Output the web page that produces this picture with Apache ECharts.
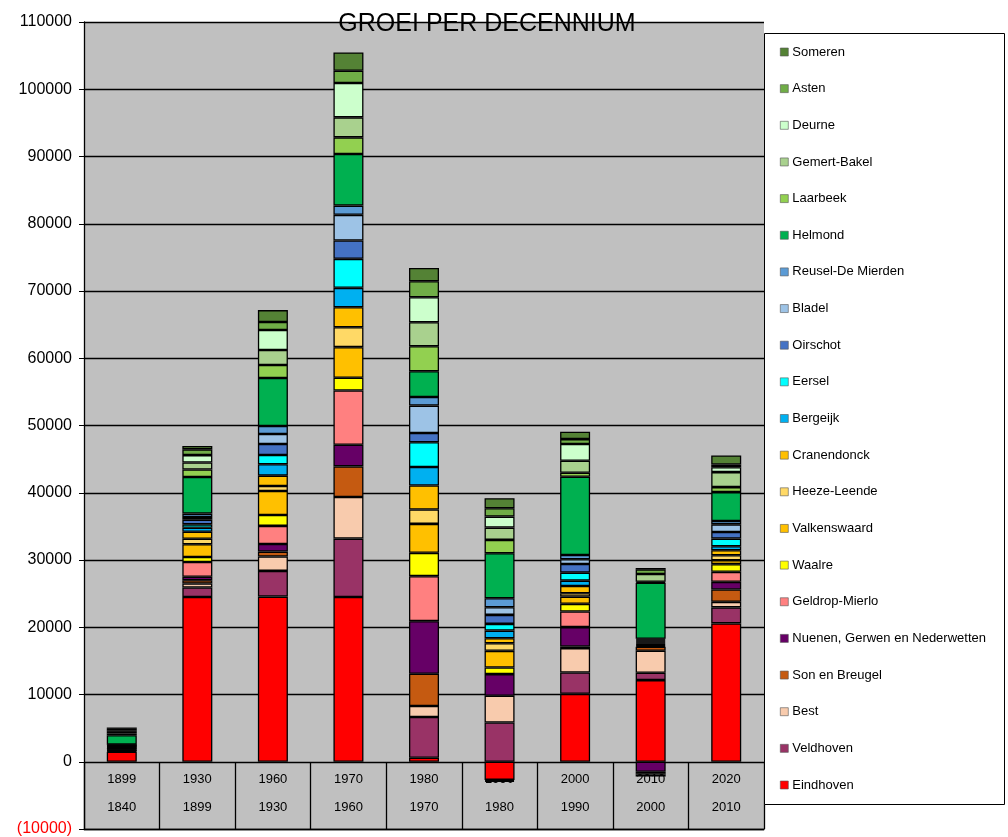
<!DOCTYPE html>
<html>
<head>
<meta charset="utf-8">
<script src="https://cdn.jsdelivr.net/npm/echarts@6/dist/echarts.min.js"></script>
<style>
  html, body { margin: 0; padding: 0; background: #ffffff; }
  #chart { width: 1008px; height: 837px; }
</style>
</head>
<body>
<div id="chart"></div>
<script>
// Decade periods: end year (top row) and start year (bottom row)
const periodEnd   = ['1899', '1930', '1960', '1970', '1980', '1990', '2000', '2010', '2020'];
const periodStart = ['1840', '1899', '1930', '1960', '1970', '1980', '1990', '2000', '2010'];

// Population growth per municipality per period (stack order: bottom to top)
const eindhoven     = [1500, 24500, 24560, 24500,  600, -2700, 10100, 12140, 20570];
const veldhoven     = [ 100,  1400,  3820,  8680, 6050,  5840,  3170,  1090,  2380];
const best          = [  80,   600,  2130,  6180, 1630,  3970,  3630,  3270,   830];
const sonEnBreugel  = [  60,   500,   740,  4560, 4800,  -150,   240,   600,  1840];
const nuenen        = [  80,   500,  1140,  3220, 7830,  3220,  2880, -1500,  1130];
const geldropMierlo = [ 120,  2200,  2680,  8070, 6690,  -150,  2320,   150,  1490];
const waalre        = [  40,   750,  1630,  1890, 3460,   980,  1140,  -200,  1140];
const valkenswaard  = [ 100,  1900,  3570,  4550, 4310,  2480,  1080,   150,   590];
const heezeLeende   = [  60,   800,   740,  2970, 2140,  1140,   500,  -200,   740];
const cranendonck   = [  80,  1050,  1530,  2970, 3570,   740,  1080,   150,   740];
const bergeijk      = [  60,   600,  1690,  2880, 2760,  1130,   790,   150,   590];
const eersel        = [  60,   500,  1390,  4310, 3670,  1000,  1190,   150,  1140];
const oirschot      = [  80,   700,  1630,  2720, 1380,  1340,  1290,   150,   980];
const bladel        = [  60,   400,  1490,  3820, 4070,  1140,   700,   150,  1140];
const reusel        = [  60,   500,  1190,  1380, 1280,  1340,   640,   150,   490];
const helmond       = [1400,  5450,  7130,  7680, 3820,  6690, 11640,  8320,  4310];
const laarbeek      = [ 250,  1100,  1930,  2470, 3720,  1980,   590,   150,   740];
const gemertBakel   = [ 250,  1050,  2230,  2970, 3570,  1830,  1780,  1140,  2230];
const deurne        = [ 250,  1100,  2970,  5110, 3720,  1630,  2480,  -300,   740];
const asten         = [ 200,   850,  1190,  1830, 2380,  1250,   740,   700,   400];
const someren       = [ 200,   500,  1780,  2720, 1980,  1490,  1080,   200,  1340];

const municipalities = [
  ['Eindhoven', eindhoven, '#FF0000'],
  ['Veldhoven', veldhoven, '#993366'],
  ['Best', best, '#F8CBAD'],
  ['Son en Breugel', sonEnBreugel, '#C55A11'],
  ['Nuenen, Gerwen en Nederwetten', nuenen, '#660066'],
  ['Geldrop-Mierlo', geldropMierlo, '#FF8080'],
  ['Waalre', waalre, '#FFFF00'],
  ['Valkenswaard', valkenswaard, '#FFC000'],
  ['Heeze-Leende', heezeLeende, '#FFD966'],
  ['Cranendonck', cranendonck, '#FFC000'],
  ['Bergeijk', bergeijk, '#00B0F0'],
  ['Eersel', eersel, '#00FFFF'],
  ['Oirschot', oirschot, '#4472C4'],
  ['Bladel', bladel, '#9DC3E6'],
  ['Reusel-De Mierden', reusel, '#5B9BD5'],
  ['Helmond', helmond, '#00B050'],
  ['Laarbeek', laarbeek, '#92D050'],
  ['Gemert-Bakel', gemertBakel, '#A9D18E'],
  ['Deurne', deurne, '#CCFFCC'],
  ['Asten', asten, '#70AD47'],
  ['Someren', someren, '#548235']
];

const categories = periodEnd.map((e, i) => e + '\n' + periodStart[i]);
const FONT = 'Arial, "Liberation Sans", sans-serif';

const chart = echarts.init(document.getElementById('chart'), null, { renderer: 'canvas' });

chart.setOption({
  backgroundColor: '#ffffff',
  animation: false,
  title: {
    text: 'GROEI PER DECENNIUM',
    left: 487,
    textAlign: 'center',
    top: 12,
    padding: 0,
    textStyle: { fontFamily: FONT, fontSize: 25, fontWeight: 'normal', color: '#000' }
  },
  graphic: [{
    type: 'rect',
    shape: { x: 764.5, y: 33.5, width: 240, height: 771 },
    style: { fill: '#ffffff', stroke: '#000', lineWidth: 1 },
    z: 50
  }],
  legend: {
    orient: 'vertical',
    left: 780,
    top: 45,
    padding: 0,
    z: 60,
    itemWidth: 8,
    itemHeight: 8,
    itemGap: 22.65,
    icon: 'rect',
    itemStyle: { borderWidth: 0.6, borderColor: '#555' },
    textStyle: { fontFamily: FONT, fontSize: 13, lineHeight: 14, color: '#000', padding: [0, 0, 0, -1] },
    data: municipalities.map(m => m[0]).reverse()
  },
  grid: {
    left: 84, right: 244, top: 22, bottom: 8,
    outerBoundsMode: 'none',
    containLabel: false,
    show: true, backgroundColor: '#C0C0C0', borderWidth: 0
  },
  // Period labels sit in a two-row band between the zero line and the bottom edge
  xAxis: {
    type: 'category',
    data: categories,
    position: 'bottom',
    axisLine: { onZero: false, lineStyle: { color: '#000', width: 1.3 } },
    axisTick: { show: true, inside: true, length: 67, interval: 0, lineStyle: { color: '#000', width: 1.3 } },
    axisLabel: {
      inside: true, interval: 0, margin: 8,
      fontFamily: FONT, fontSize: 13, lineHeight: 28, color: '#000'
    },
    z: 1
  },
  yAxis: {
    type: 'value',
    min: -10000, max: 110000, interval: 10000,
    axisLine: { show: true, lineStyle: { color: '#000', width: 1.3 } },
    axisTick: { show: true, length: 5, lineStyle: { color: '#000' } },
    splitLine: { show: true, lineStyle: { color: '#000', width: 1.3 } },
    axisLabel: {
      margin: 12,
      fontFamily: FONT, fontSize: 16, color: '#000',
      formatter: v => v < 0 ? '{neg|(' + Math.abs(v) + ')}' : String(v),
      rich: { neg: { color: '#FF0000', fontFamily: FONT, fontSize: 16 } }
    }
  },
  series: municipalities.map(([name, values, color]) => ({
    name,
    type: 'bar',
    stack: 'groei',
    barWidth: 30,
    data: values,
    itemStyle: { color, borderColor: '#000', borderWidth: 1.3 },
    emphasis: { disabled: true }
  }))
});
</script>
</body>
</html>
